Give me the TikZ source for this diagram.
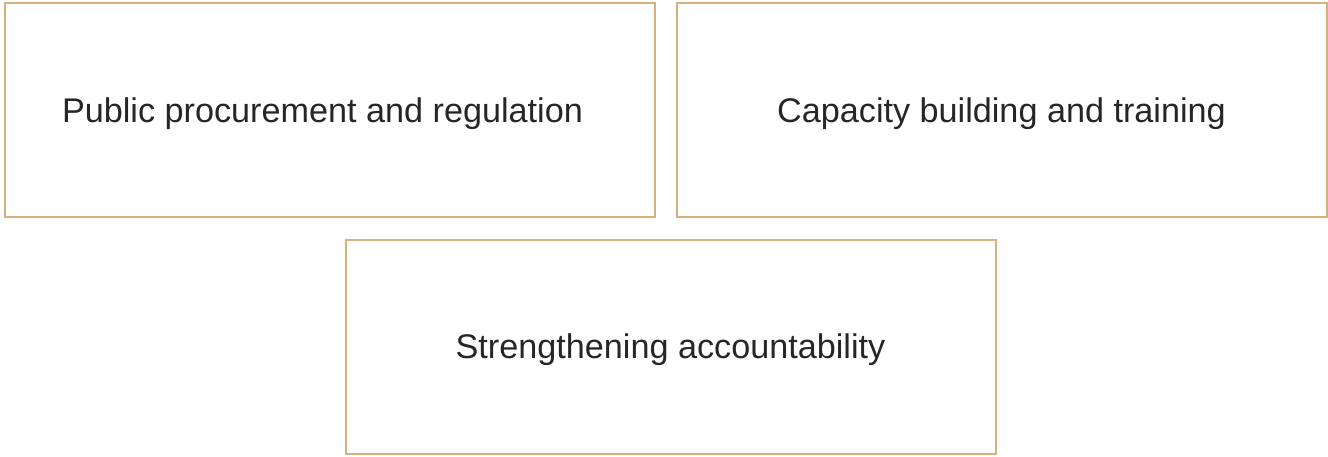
\documentclass[tikz,border=0pt]{standalone}
\usepackage{fontspec}
\setmainfont{Liberation Sans}
\definecolor{boxtan}{HTML}{D5B17F}
\tikzset{topicbox/.style={draw=boxtan,line width=2pt,minimum width=650pt,minimum height=214pt,inner sep=0pt,text depth=0pt,font=\fontsize{34.2}{40}\selectfont,text=black!85}}

\begin{document}
\begin{tikzpicture}[x=1pt,y=-1pt]
                \useasboundingbox(0,0)rectangle(1328,456);
                \node[topicbox] (procure) at (329.5,110){Public procurement and regulation\hspace*{14pt}};
                \node[topicbox] (capacity) at (1001.5,110){Capacity building and training};
                \node[topicbox] (account) at (670.5,346.5){Strengthening accountability};
            \end{tikzpicture}
\end{document}
